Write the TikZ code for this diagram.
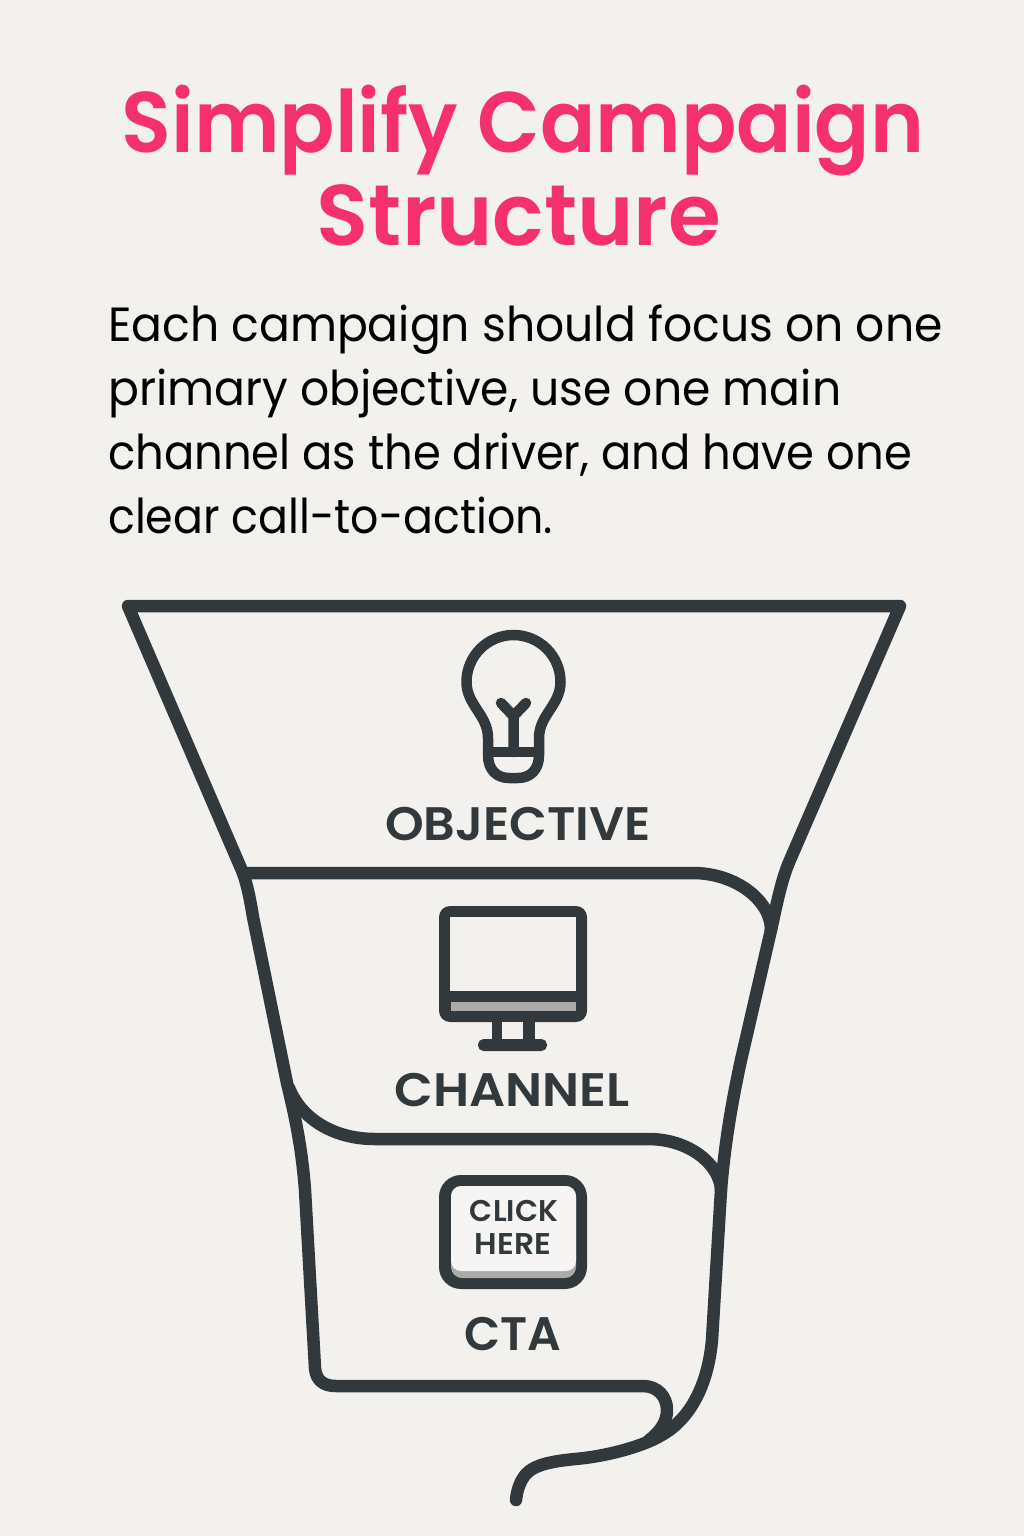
\documentclass[tikz,border=0pt]{standalone}
\usepackage{fontspec}
\setmainfont{Poppins}[FakeStretch=0.951]
\newfontfamily\semib{Poppins SemiBold}[FakeStretch=0.95]
\newfontfamily\labelf{Poppins SemiBold}
\definecolor{bgc}{HTML}{F3F1ED}
\definecolor{ink}{HTML}{32393C}
\definecolor{pinkc}{HTML}{F5306F}
\definecolor{greyc}{HTML}{ABABA9}
\tikzset{
  funnelline/.style={draw=ink,line width=12.5pt,line cap=round,line join=round},
  iconline/.style={draw=ink,line width=10.5pt,line cap=round,line join=round},
  titletext/.style={inner sep=0pt,anchor=base,text=pinkc,transform shape,font=\semib\fontsize{86}{86}\selectfont},
  bodytext/.style={inner sep=0pt,anchor=base west,text=black,transform shape,font=\fontsize{48}{48}\selectfont},
  labeltext/.style={inner sep=0pt,anchor=base,text=ink,transform shape,font=\labelf\fontsize{47}{47}\selectfont},
  btntext/.style={inner sep=0pt,anchor=base,text=ink,transform shape,font=\labelf\fontsize{30}{30}\selectfont}
}
\begin{document}
\begin{tikzpicture}[x=1pt,y=-1pt]
\useasboundingbox (0,0) rectangle (1024,1536);
\fill[bgc] (0,0) rectangle (1024,1536);
% title and body
\node[titletext] (t1) at (523,153) {Simplify Campaign};
\node[titletext,xscale=1.045] (t2) at (519,245) {Structure};
\node[bodytext] (b1) at (108,341) {Each campaign should focus on one};
\node[bodytext] (b2) at (108,405) {primary objective, use one main};
\node[bodytext,xscale=0.982] (b3) at (108,469) {channel as the driver, and have one};
\node[bodytext,xscale=0.97] (b4) at (108,533) {clear call-to-action.};
% funnel
\draw[funnelline] (243,873) -- (128,606) -- (900,606) -- (790,860)
  .. controls (781,880) and (776,908) .. (771,930)
  -- (741,1060) .. controls (733,1097) and (725,1140) .. (721,1190)
  -- (712,1340) .. controls (708,1385) and (690,1420) .. (660,1436)
  .. controls (645,1445) and (610,1456) .. (575,1459)
  .. controls (555,1461) and (535,1464) .. (526,1474)
  .. controls (520,1481) and (517,1490) .. (516,1500);
\draw[funnelline] (243,873) .. controls (248,887) and (251,905) .. (253,917)
  -- (287,1083) .. controls (296,1120) and (302,1150) .. (305,1190)
  -- (315,1368) .. controls (316,1380) and (323,1386) .. (336,1386)
  -- (643,1386) .. controls (658,1386) and (667,1397) .. (667,1410)
  .. controls (667,1422) and (660,1432) .. (648,1441);
\draw[funnelline] (243,873) -- (693,873) .. controls (735,873) and (771,900) .. (771,930);
\draw[funnelline] (289,1088) .. controls (302,1120) and (335,1139) .. (375,1139)
  -- (648,1139) .. controls (690,1139) and (720,1165) .. (721,1190);
% bulb
\draw[iconline] (488,752) -- (488,738) .. controls (488,715) and (466.5,705) .. (466.5,682)
  arc[start angle=180,end angle=360,radius=47] .. controls (560.5,705) and (539,715) .. (539,738) -- (539,755)
  .. controls (539,770) and (530,778) .. (518,778) -- (509,778)
  .. controls (497,778) and (488,770) .. (488,755) -- cycle;
\draw[iconline] (488,752) -- (539,752);
\draw[iconline] (513.5,752) -- (513.5,716) -- (501,703);
\draw[iconline] (513.5,716) -- (526,703);
\node[labeltext,xscale=1.048] (objl) at (518,840) {OBJECTIVE};
% monitor
\fill[ink,rounded corners=11pt] (439,906) rectangle (587,1022);
\fill[bgc] (450,917) rectangle (576,991);
\fill[greyc] (451,1002) rectangle (576,1011);
\fill[ink] (492,1020) rectangle (535,1041);
\fill[bgc] (502,1022) rectangle (523,1039);
\fill[ink,rounded corners=5.5pt] (478,1039) rectangle (547,1051);
\node[labeltext,xscale=1.073] (chl) at (512,1106) {CHANNEL};
% button
\fill[ink,rounded corners=22pt] (439,1175) rectangle (587,1289);
\fill[greyc,rounded corners=11pt] (451,1186) rectangle (576,1278);
\fill[bgc!70!white,rounded corners=10pt] (451,1186) rectangle (576,1271);
\node[btntext] (cl) at (514,1221) {CLICK};
\node[btntext,xscale=1.05] (he) at (513,1254) {HERE};
\node[labeltext] (cta) at (513,1350) {CTA};
\end{tikzpicture}
\end{document}
